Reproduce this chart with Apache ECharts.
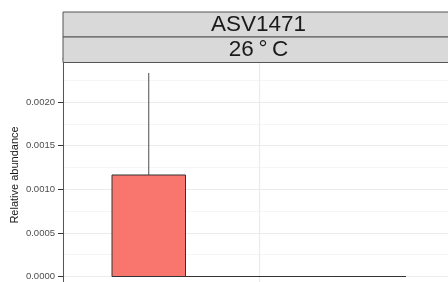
<!DOCTYPE html>
<html>
<head>
<meta charset="utf-8">
<script src="https://cdn.jsdelivr.net/npm/echarts@6/dist/echarts.min.js"></script>
<style>html,body{margin:0;padding:0;background:#fff}#c{width:448px;height:282px}</style>
</head>
<body>
<div id="c"></div>
<script>
// ---- data ----
const groups = ['G1', 'G2', 'G3', 'G4'];
const values = [0.001164, 0, 0, 0];
const upper = [0.002334, 0, 0, 0];
const yTickValues = [0, 0.0005, 0.0010, 0.0015, 0.0020];
const facetTitle = 'ASV1471';
const facetSub = '26\u2009°\u2009C';
const yTitle = 'Relative abundance';

const dodgeTotal = 0.9;
const gw = dodgeTotal / groups.length;
const barData = groups.map((g, i) => [i, values[i], upper[i]]);

const chart = echarts.init(document.getElementById('c'), null, {renderer: 'canvas'});
const font = 'Liberation Sans, Arial, Helvetica, sans-serif';

chart.setOption({
  animation: false,
  grid: {left: 63, top: 58.5, width: 392, height: 261.6, containLabel: false, outerBoundsMode: 'none'},
  xAxis: {
    type: 'value', min: -0.6, max: 0.6, interval: 0.6,
    axisLine: {show: false, onZero: false}, axisTick: {show: false}, axisLabel: {show: false},
    splitLine: {show: true, lineStyle: {color: '#ebebeb', width: 1.2}}
  },
  yAxis: {
    type: 'value', min: -0.0005, max: 0.0025, interval: 0.0005,
    axisLine: {show: true, onZero: false, lineStyle: {color: '#555', width: 1}},
    axisTick: {show: true, length: 5, lineStyle: {color: '#333'}},
    axisLabel: {
      fontSize: 9.5, color: '#4d4d4d', fontFamily: font, margin: 8,
      formatter: v => yTickValues.some(t => Math.abs(t - v) < 1e-9) ? v.toFixed(4) : ''
    },
    splitLine: {show: true, lineStyle: {color: '#ebebeb', width: 1}},
    minorTick: {show: false, splitNumber: 2},
    minorSplitLine: {show: true, lineStyle: {color: '#f3f3f3', width: 0.8}}
  },
  series: [
    {
      type: 'custom',
      data: barData,
      z: 3,
      renderItem: function (params, api) {
        const i = api.value(0), v = api.value(1);
        const x0 = -dodgeTotal / 2 + i * gw, x1 = x0 + gw;
        const p0 = api.coord([x0, v]);
        const p1 = api.coord([x1, 0]);
        return {
          type: 'polygon',
          shape: {points: [[p0[0], p0[1]], [p1[0], p0[1]], [p1[0], p1[1]], [p0[0], p1[1]]]},
          style: {fill: '#F8766D', stroke: '#333', lineWidth: 1}
        };
      }
    },
    {
      type: 'custom',
      data: barData,
      z: 4,
      renderItem: function (params, api) {
        const i = api.value(0), v = api.value(1), u = api.value(2);
        if (u <= v) return null;
        const xc = -dodgeTotal / 2 + (i + 0.5) * gw;
        const a = api.coord([xc, v]);
        const b = api.coord([xc, u]);
        return {
          type: 'line',
          shape: {x1: a[0], y1: a[1], x2: b[0], y2: b[1]},
          style: {stroke: '#4d4d4d', lineWidth: 1}
        };
      }
    }
  ],
  graphic: [
    {type: 'rect', z: 100, shape: {x: 0, y: 0, width: 62.5, height: 62.5}, style: {fill: '#fff'}},
    {type: 'rect', z: 101, shape: {x: 63, y: 12, width: 400, height: 25}, style: {fill: '#d9d9d9', stroke: '#555', lineWidth: 1}},
    {type: 'rect', z: 101, shape: {x: 63, y: 37, width: 400, height: 25.5}, style: {fill: '#d9d9d9', stroke: '#555', lineWidth: 1}},
    {type: 'text', z: 102, x: 258.5, y: 25, style: {text: facetTitle, fontSize: 22.5, fontFamily: font, fill: '#1a1a1a', align: 'center', verticalAlign: 'middle'}},
    {type: 'text', z: 102, x: 258.5, y: 50, style: {text: facetSub, fontSize: 22.5, fontFamily: font, fill: '#1a1a1a', align: 'center', verticalAlign: 'middle'}},
    {type: 'text', z: 102, x: 15, y: 175, rotation: Math.PI / 2, style: {text: yTitle, fontSize: 11, fontFamily: font, fill: '#1a1a1a', align: 'center', verticalAlign: 'middle'}}
  ]
});
</script>
</body>
</html>
